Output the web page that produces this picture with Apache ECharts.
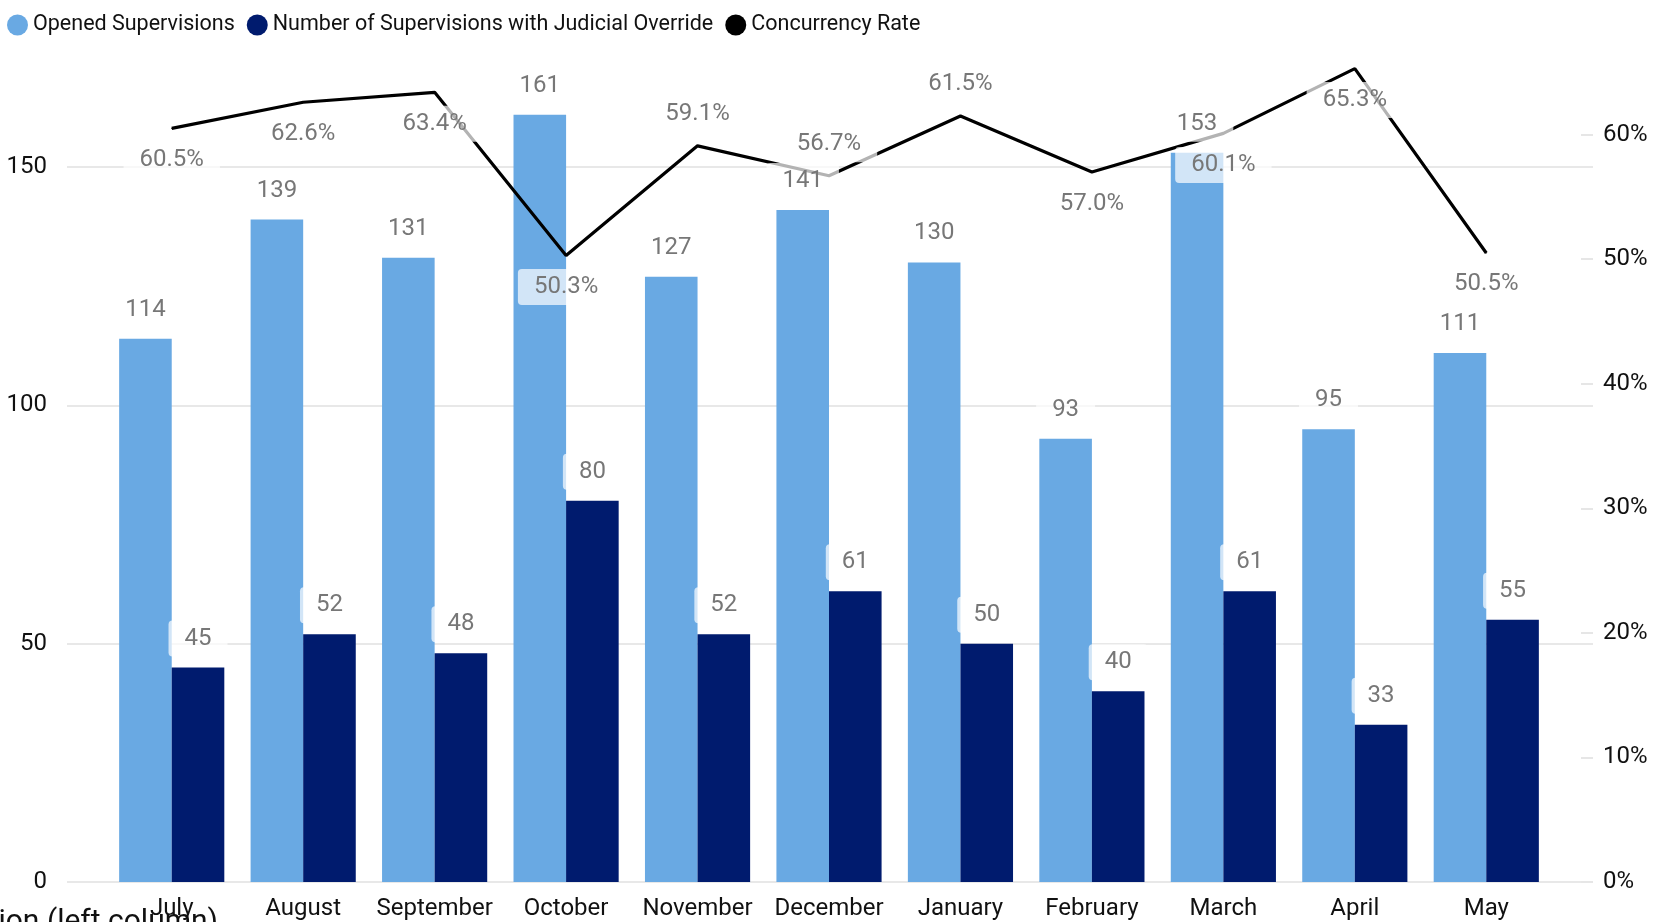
<!DOCTYPE html>
<html>
<head>
<meta charset="utf-8">
<script src="https://cdn.jsdelivr.net/npm/echarts@6/dist/echarts.min.js"></script>
<style>
html,body{margin:0;padding:0;background:#fff;}
#chart{width:1675px;height:922px;}
</style>
</head>
<body>
<div id="chart"></div>
<script>
const months = ['July','August','September','October','November','December','January','February','March','April','May'];
const openedSupervisions = [114,139,131,161,127,141,130,93,153,95,111];
const judicialOverrides = [45,52,48,80,52,61,50,40,61,33,55];
const concurrencyRate = [60.5,62.6,63.4,50.3,59.1,56.7,61.5,57.0,60.1,65.3,50.5];

const seriesNames = ['Opened Supervisions','Number of Supervisions with Judicial Override','Concurrency Rate'];
const colors = ['#69A9E3','#001B6E','#000000'];

// layout (pixels)
const W = 1675, H = 922;
const BASE_Y = 882, TOP_Y = 58;
const PX_PER_COUNT = 4.766, PX_PER_PCT = 12.456;
const LEFT_MAX = (BASE_Y - TOP_Y) / PX_PER_COUNT;
const RIGHT_MAX = (BASE_Y - TOP_Y) / PX_PER_PCT;
const LEFT_TICK_MAX = 150, RIGHT_TICK_MAX = 60;
// months whose rate label sits above the line
const rateLabelAboveMonths = ['November','December','January'];

const FONT = 'Roboto';
const labelBox = {
  fontFamily: FONT, fontSize: 24, color: '#777777',
  backgroundColor: 'rgba(255,255,255,0.7)', padding: [6, 16], borderRadius: 4
};

const plotGrid = {left: 106, right: 123, top: TOP_Y, bottom: H - BASE_Y};
const wideLeft = 67, wideRight = 82;

const rateData = concurrencyRate.map((v, i) => (
  rateLabelAboveMonths.indexOf(months[i]) >= 0 ? {value: v, label: {position: 'top'}} : v
));

const chart = echarts.init(document.getElementById('chart'), null, {renderer: 'canvas'});
chart.setOption({
  animation: false,
  textStyle: {fontFamily: FONT},
  legend: {
    data: seriesNames,
    left: 2, top: 9,
    icon: 'circle', itemWidth: 21, itemHeight: 21, itemGap: 12,
    textStyle: {fontFamily: FONT, fontSize: 21.5, color: '#111111'}
  },
  grid: [
    Object.assign({}, plotGrid),
    Object.assign({}, plotGrid),
    {left: wideLeft, right: wideRight, top: BASE_Y - LEFT_TICK_MAX * PX_PER_COUNT, bottom: H - BASE_Y},
    {left: wideLeft, right: wideRight, top: BASE_Y - RIGHT_TICK_MAX * PX_PER_PCT, bottom: H - BASE_Y}
  ],
  xAxis: [
    {gridIndex: 0, type: 'category', data: months, boundaryGap: true,
     axisLine: {show: false}, axisTick: {show: false},
     axisLabel: {interval: 0, fontFamily: FONT, fontSize: 24, color: '#111', margin: 15}},
    {gridIndex: 1, type: 'category', data: months, show: false},
    {gridIndex: 2, type: 'value', min: 0, max: 1, show: false},
    {gridIndex: 3, type: 'value', min: 0, max: 1, show: false}
  ],
  yAxis: [
    {gridIndex: 0, type: 'value', min: 0, max: LEFT_MAX, show: false, splitLine: {show: false}},
    {gridIndex: 0, type: 'value', min: 0, max: RIGHT_MAX, show: false, splitLine: {show: false}},
    {gridIndex: 1, type: 'value', min: 0, max: LEFT_MAX, show: false, splitLine: {show: false}},
    {gridIndex: 2, type: 'value', min: 0, max: LEFT_TICK_MAX, interval: 50, position: 'left',
     axisLine: {show: false, onZero: false}, axisTick: {show: false},
     axisLabel: {fontFamily: FONT, fontSize: 24, color: '#111', margin: 20},
     splitLine: {show: true, lineStyle: {color: '#E8E8E8', width: 2}}},
    {gridIndex: 3, type: 'value', min: 0, max: RIGHT_TICK_MAX, interval: 10, position: 'right',
     axisLine: {show: false, onZero: false},
     axisTick: {show: true, inside: true, length: 12, lineStyle: {color: '#E6E6E6', width: 2}},
     axisLabel: {fontFamily: FONT, fontSize: 24, color: '#111', margin: 10, formatter: '{value}%'},
     splitLine: {show: false}}
  ],
  series: [
    {name: seriesNames[0], type: 'bar', xAxisIndex: 0, yAxisIndex: 0, data: openedSupervisions,
     itemStyle: {color: colors[0]}, barGap: '0%', barCategoryGap: '20%', z: 2},
    {name: seriesNames[1], type: 'bar', xAxisIndex: 0, yAxisIndex: 0, data: judicialOverrides,
     itemStyle: {color: colors[1]}, barGap: '0%', barCategoryGap: '20%', z: 2},
    {name: seriesNames[2], type: 'line', xAxisIndex: 0, yAxisIndex: 1, data: rateData,
     symbol: 'circle', symbolSize: 1, showSymbol: true,
     lineStyle: {color: colors[2], width: 3.2}, itemStyle: {color: colors[2]}, z: 3,
     label: Object.assign({show: true, position: 'bottom', distance: 13,
       formatter: p => Number(p.value).toFixed(1) + '%'}, labelBox)},
    {name: 'lbl-opened', type: 'bar', xAxisIndex: 1, yAxisIndex: 2, data: openedSupervisions,
     itemStyle: {color: 'rgba(0,0,0,0)'}, barGap: '0%', barCategoryGap: '20%', z: 10, silent: true,
     label: Object.assign({show: true, position: 'top', distance: 11}, labelBox)},
    {name: 'lbl-override', type: 'bar', xAxisIndex: 1, yAxisIndex: 2, data: judicialOverrides,
     itemStyle: {color: 'rgba(0,0,0,0)'}, barGap: '0%', barCategoryGap: '20%', z: 10, silent: true,
     label: Object.assign({show: true, position: 'top', distance: 11}, labelBox)}
  ],
  graphic: [
    {type: 'text', x: 218, y: 907, silent: true,
     style: {text: 'Supervision (left column)', align: 'right', verticalAlign: 'top',
       fontFamily: FONT, fontSize: 30, fill: '#111'}}
  ]
});
</script>
</body>
</html>
